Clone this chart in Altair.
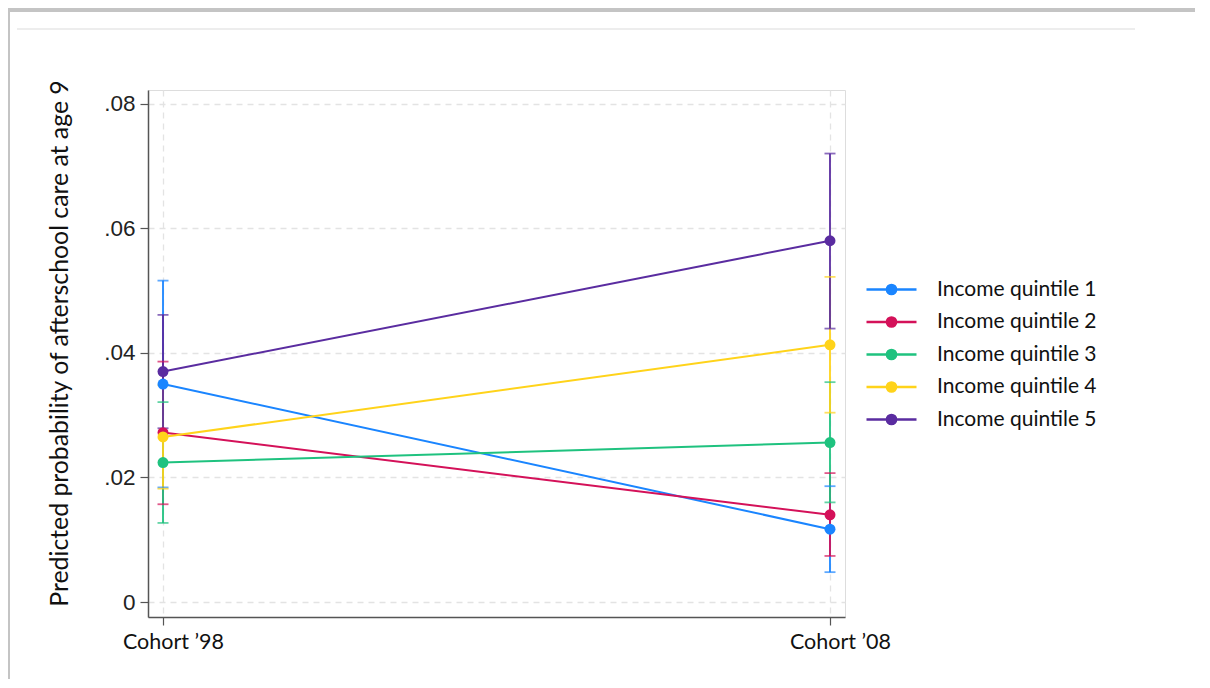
import altair as alt
import pandas as pd

quintiles = ["Income quintile 1", "Income quintile 2", "Income quintile 3",
             "Income quintile 4", "Income quintile 5"]
colors = ["#1a85ff", "#d41159", "#1fc27f", "#ffd31a", "#5a2ca0"]
cohorts = [0, 1]
cohort_labels = ["Cohort \u201998", "Cohort \u201908"]

est98 = [0.0350, 0.0272, 0.0224, 0.0265, 0.0370]
lo98 = [0.0184, 0.0157, 0.0127, 0.0182, 0.0279]
hi98 = [0.0516, 0.0386, 0.0321, 0.0348, 0.0461]
est08 = [0.0117, 0.0140, 0.0256, 0.0413, 0.0580]
lo08 = [0.0048, 0.0074, 0.0160, 0.0304, 0.0439]
hi08 = [0.0186, 0.0207, 0.0353, 0.0522, 0.0720]

y_ticks = [0, 0.02, 0.04, 0.06, 0.08]

rows = []
for i, q in enumerate(quintiles):
    rows.append({"q": q, "order": i, "cohort": cohorts[0], "est": est98[i], "lo": lo98[i], "hi": hi98[i]})
    rows.append({"q": q, "order": i, "cohort": cohorts[1], "est": est08[i], "lo": lo08[i], "hi": hi08[i]})
df = pd.DataFrame(rows)

FONT_TXT = "Lato"
FONT_NUM = "Liberation Sans"

label_expr = "datum.value == 0 ? '" + cohort_labels[0] + "' : '" + cohort_labels[1] + "'"

x_enc = alt.X("cohort:Q",
              scale=alt.Scale(domain=[-0.0225, 1.0225], nice=False, zero=False),
              axis=alt.Axis(values=cohorts, labelExpr=label_expr, title=None,
                            labelFont=FONT_TXT, labelFontSize=21.5, labelColor="#111",
                            labelPadding=6, labelOffset=10,
                            tickSize=8, tickColor="#555", domainColor="#555",
                            domainWidth=1.5, tickWidth=1.2,
                            grid=True, gridDash=[6, 5], gridColor="#e3e3e3", gridWidth=1.3))

y_scale = alt.Scale(domain=[-0.0024, 0.0822], nice=False, zero=False)
y_axis = alt.Axis(values=y_ticks,
                  labelExpr="datum.value == 0 ? '0' : replace(format(datum.value, '.2f'), '0.', '.')",
                  title="Predicted probability of afterschool care at age 9",
                  titleFont=FONT_TXT, titleFontSize=24.8, titleFontWeight="normal",
                  titleColor="#111", titlePadding=31, titleY=253,
                  labelFont=FONT_NUM, labelFontSize=22.5, labelColor="#222", labelPadding=5,
                  tickSize=8, tickColor="#555", domainColor="#555",
                  domainWidth=1.5, tickWidth=1.2,
                  grid=True, gridDash=[6, 5], gridColor="#e3e3e3", gridWidth=1.3)

color_scale = alt.Scale(domain=quintiles, range=colors)

# legend glyph: a line with a solid dot (concentric rings so it reads as filled)
sym_path = ("M-2.5,0L2.5,0 "
            "M-0.1,0A0.1,0.1 0 1,0 0.1,0A0.1,0.1 0 1,0 -0.1,0 "
            "M-0.22,0A0.22,0.22 0 1,0 0.22,0A0.22,0.22 0 1,0 -0.22,0 "
            "M-0.34,0A0.34,0.34 0 1,0 0.34,0A0.34,0.34 0 1,0 -0.34,0 "
            "M-0.46,0A0.46,0.46 0 1,0 0.46,0A0.46,0.46 0 1,0 -0.46,0")

legend = alt.Legend(title=None, orient="none", legendX=732, legendY=188,
                    symbolType=sym_path, symbolSize=400, symbolStrokeWidth=2.5,
                    symbolOpacity=1,
                    labelFont=FONT_TXT, labelFontSize=21, labelColor="#111",
                    labelOffset=34, rowPadding=10.5, labelLimit=300)

color_enc = alt.Color("q:N", scale=color_scale, legend=legend)

base = alt.Chart(df)

rules = base.mark_rule(strokeWidth=1.8).encode(
    x=x_enc, y=alt.Y("lo:Q", scale=y_scale, axis=y_axis), y2="hi:Q",
    color=color_enc, order="order:Q")
caps_lo = base.mark_tick(orient="horizontal", size=11, thickness=1.8).encode(
    x="cohort:Q", y="lo:Q", color=color_enc)
caps_hi = base.mark_tick(orient="horizontal", size=11, thickness=1.8).encode(
    x="cohort:Q", y="hi:Q", color=color_enc)
lines = base.mark_line(strokeWidth=2).encode(
    x="cohort:Q", y="est:Q", detail="q:N", color=color_enc)
points = base.mark_point(filled=True, size=120, opacity=1).encode(
    x="cohort:Q", y="est:Q", color=color_enc, order="order:Q")

frame_top = alt.Chart(df).mark_rule(color="#c4c4c4", strokeWidth=3, clip=False).encode(
    x=alt.value(-141), x2=alt.value(1060), y=alt.value(-80))
frame_left = alt.Chart(df).mark_rule(color="#c4c4c4", strokeWidth=3, clip=False).encode(
    x=alt.value(-140), y=alt.value(-81), y2=alt.value(620))
header_line = alt.Chart(df).mark_rule(color="#ececec", strokeWidth=1.5, clip=False).encode(
    x=alt.value(-131), x2=alt.value(987), y=alt.value(-61))

chart = alt.layer(frame_top, frame_left, header_line, rules, caps_lo, caps_hi, lines, points).properties(
    width=697, height=527,
    autosize=alt.AutoSizeParams(type="none"),
    padding={"left": 140, "top": 82, "right": 350, "bottom": 62},
).configure_view(stroke=None).configure(background="white")

chart.save("out.html", embed_options={"renderer": "svg", "actions": False})
